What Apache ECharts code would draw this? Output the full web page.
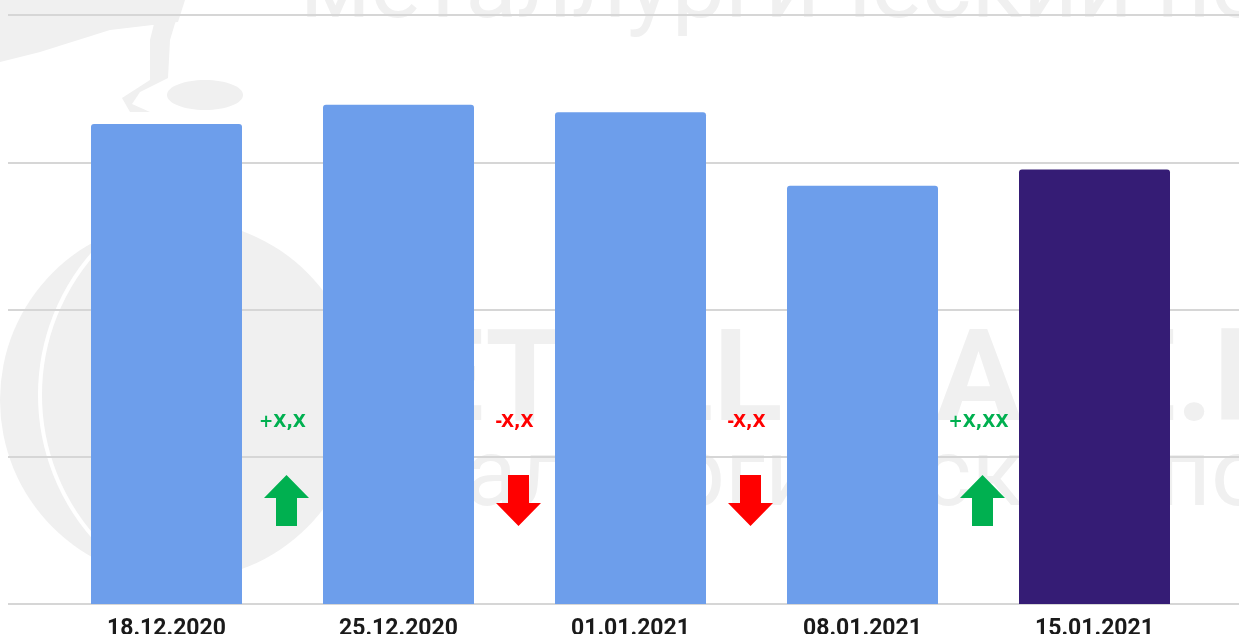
<!DOCTYPE html>
<html lang="ru">
<head>
    <meta charset="UTF-8">
    <title>Цены</title>
    <script src="https://cdn.jsdelivr.net/npm/echarts@6/dist/echarts.min.js"></script>
    <style>
        html, body { margin: 0; padding: 0; background: #fff; }
        #chart { width: 1239px; height: 634px; }
    </style>
</head>
<body>
<div id="chart"></div>

<script type="text/javascript">
    // данные
    var dates = ['18.12.2020', '25.12.2020', '01.01.2021', '08.01.2021', '15.01.2021'];
    var prices = [326, 339, 334, 284, 295];
    var changeLabels = ['+X,X', '-X,X', '-X,X', '+X,XX'];
    var changeDirections = ['up', 'down', 'down', 'up'];

    var upArrow = 'path://M22.5,0 L45,23 L33,23 L33,51 L12,51 L12,23 L0,23 Z';
    var downArrow = 'path://M12,0 L33,0 L33,28 L45,28 L22.5,51 L0,28 L12,28 Z';
    var arrowLevel = 70.3;
    var wm = '#f0f0f0';

    var chart = echarts.init(document.getElementById('chart'));

    var changePoints = changeLabels.map(function (txt, i) {
        var up = changeDirections[i] === 'up';
        var c = up ? '#00b050' : '#ff0000';
        return {
            value: [i + 0.5, arrowLevel],
            symbol: up ? upArrow : downArrow,
            itemStyle: {color: c, opacity: 1},
            label: {color: c, formatter: txt}
        };
    });

    var option = {
        backgroundColor: '#fff',
        animation: false,
        graphic: [
            // водяной знак: логотип
            {type: 'circle', z: -10, shape: {cx: 180, cy: 400, r: 180}, style: {fill: wm}},
            {type: 'circle', z: -9, shape: {cx: 255, cy: 395, r: 215}, style: {fill: null, stroke: '#fff', lineWidth: 4}},
            {type: 'polygon', z: -10, shape: {points: [[0, 0], [185, 0], [178, 22], [110, 30], [40, 52], [0, 62]]}, style: {fill: wm}},
            {type: 'polygon', z: -10, shape: {points: [[160, 0], [182, 0], [170, 40], [168, 78], [140, 92], [132, 104], [150, 112], [130, 112], [122, 98], [150, 80], [150, 40]]}, style: {fill: wm}},
            {type: 'ellipse', z: -10, shape: {cx: 205, cy: 95, rx: 38, ry: 15}, style: {fill: wm}},
            // водяной знак: тексты
            {type: 'text', z: -8, x: 300, y: -7,
                style: {text: 'металлургический портал', font: '95px Roboto', fill: wm, verticalAlign: 'middle'}},
            {type: 'text', z: -8, x: 300, y: 388,
                style: {text: 'METALLPLACE.RU', font: 'bold 128px Roboto', fill: wm, verticalAlign: 'middle'}},
            {type: 'text', z: -8, x: 300, y: 481,
                style: {text: 'металлургический портал', font: '95px Roboto', fill: wm, verticalAlign: 'middle'}}
        ],
        grid: [
            {left: 8, right: 0, top: 15, bottom: 30, outerBoundsMode: 'none'},
            {left: 50.5, right: 28.5, top: 15, bottom: 30, outerBoundsMode: 'none'}
        ],
        xAxis: [
            {gridIndex: 0, type: 'value', min: 0, max: 1, show: false},
            {
                gridIndex: 1,
                type: 'category',
                data: dates,
                axisLine: {show: false},
                axisTick: {show: false},
                axisLabel: {
                    margin: 14,
                    fontFamily: 'Roboto',
                    fontWeight: 'bold',
                    fontSize: 23,
                    color: '#1a1a1a'
                }
            },
            {gridIndex: 1, type: 'value', min: -0.5, max: 4.5, show: false}
        ],
        yAxis: [
            {
                gridIndex: 0,
                type: 'value',
                min: 0,
                max: 400,
                interval: 100,
                axisLine: {show: false},
                axisTick: {show: false},
                axisLabel: {show: false},
                splitLine: {lineStyle: {color: '#d6d6d6', width: 2}}
            },
            {gridIndex: 1, type: 'value', min: 0, max: 400, show: false, splitLine: {show: false}}
        ],
        series: [
            {
                type: 'bar',
                xAxisIndex: 1,
                yAxisIndex: 1,
                barWidth: 151,
                data: prices.map(function (v, i) {
                    return {
                        value: v,
                        itemStyle: {
                            color: i === prices.length - 1 ? '#351c75' : '#6d9eeb',
                            borderRadius: [3, 3, 0, 0]
                        }
                    };
                })
            },
            {
                type: 'scatter',
                xAxisIndex: 2,
                yAxisIndex: 1,
                symbolSize: [45, 51],
                symbolOffset: [4, 0],
                z: 3,
                label: {
                    show: true,
                    position: 'top',
                    distance: 44,
                    offset: [-4, 0],
                    fontFamily: 'DejaVu Sans',
                    fontWeight: 'bold',
                    fontSize: 17
                },
                data: changePoints
            }
        ]
    };

    chart.setOption(option);
</script>
</body>
</html>
